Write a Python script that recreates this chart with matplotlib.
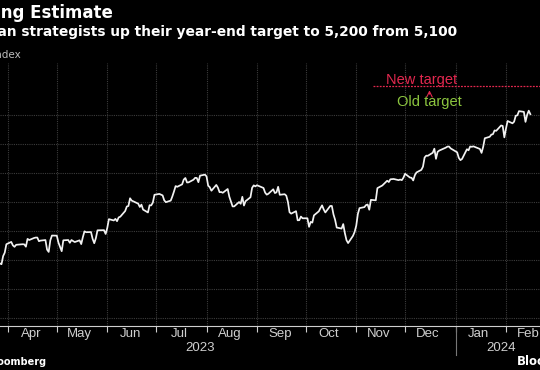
import pandas as pd
import matplotlib
matplotlib.use("Agg")
import matplotlib.pyplot as plt
import matplotlib.dates as mdates

# S&P 500 daily closes
dates = [
    "2023-03-22", "2023-03-23", "2023-03-24", "2023-03-27", "2023-03-28", "2023-03-29", "2023-03-30", "2023-03-31",
    "2023-04-03", "2023-04-04", "2023-04-05", "2023-04-06", "2023-04-10", "2023-04-11", "2023-04-12", "2023-04-13",
    "2023-04-14", "2023-04-17", "2023-04-18", "2023-04-19", "2023-04-20", "2023-04-21", "2023-04-24", "2023-04-25",
    "2023-04-26", "2023-04-27", "2023-04-28",
    "2023-05-01", "2023-05-02", "2023-05-03", "2023-05-04", "2023-05-05", "2023-05-08", "2023-05-09", "2023-05-10",
    "2023-05-11", "2023-05-12", "2023-05-15", "2023-05-16", "2023-05-17", "2023-05-18", "2023-05-19", "2023-05-22",
    "2023-05-23", "2023-05-24", "2023-05-25", "2023-05-26", "2023-05-30", "2023-05-31",
    "2023-06-01", "2023-06-02", "2023-06-05", "2023-06-06", "2023-06-07", "2023-06-08", "2023-06-09", "2023-06-12",
    "2023-06-13", "2023-06-14", "2023-06-15", "2023-06-16", "2023-06-20", "2023-06-21", "2023-06-22", "2023-06-23",
    "2023-06-26", "2023-06-27", "2023-06-28", "2023-06-29", "2023-06-30",
    "2023-07-03", "2023-07-05", "2023-07-06", "2023-07-07", "2023-07-10", "2023-07-11", "2023-07-12", "2023-07-13",
    "2023-07-14", "2023-07-17", "2023-07-18", "2023-07-19", "2023-07-20", "2023-07-21", "2023-07-24", "2023-07-25",
    "2023-07-26", "2023-07-27", "2023-07-28", "2023-07-31",
    "2023-08-01", "2023-08-02", "2023-08-03", "2023-08-04", "2023-08-07", "2023-08-08", "2023-08-09", "2023-08-10",
    "2023-08-11", "2023-08-14", "2023-08-15", "2023-08-16", "2023-08-17", "2023-08-18", "2023-08-21", "2023-08-22",
    "2023-08-23", "2023-08-24", "2023-08-25", "2023-08-28", "2023-08-29", "2023-08-30", "2023-08-31",
    "2023-09-01", "2023-09-05", "2023-09-06", "2023-09-07", "2023-09-08", "2023-09-11", "2023-09-12", "2023-09-13",
    "2023-09-14", "2023-09-15", "2023-09-18", "2023-09-19", "2023-09-20", "2023-09-21", "2023-09-22", "2023-09-25",
    "2023-09-26", "2023-09-27", "2023-09-28", "2023-09-29",
    "2023-10-02", "2023-10-03", "2023-10-04", "2023-10-05", "2023-10-06", "2023-10-09", "2023-10-10", "2023-10-11",
    "2023-10-12", "2023-10-13", "2023-10-16", "2023-10-17", "2023-10-18", "2023-10-19", "2023-10-20", "2023-10-23",
    "2023-10-24", "2023-10-25", "2023-10-26", "2023-10-27", "2023-10-30", "2023-10-31",
    "2023-11-01", "2023-11-02", "2023-11-03", "2023-11-06", "2023-11-07", "2023-11-08", "2023-11-09", "2023-11-10",
    "2023-11-13", "2023-11-14", "2023-11-15", "2023-11-16", "2023-11-17", "2023-11-20", "2023-11-21", "2023-11-22",
    "2023-11-24", "2023-11-27", "2023-11-28", "2023-11-29", "2023-11-30",
    "2023-12-01", "2023-12-04", "2023-12-05", "2023-12-06", "2023-12-07", "2023-12-08", "2023-12-11", "2023-12-12",
    "2023-12-13", "2023-12-14", "2023-12-15", "2023-12-18", "2023-12-19", "2023-12-20", "2023-12-21", "2023-12-22",
    "2023-12-26", "2023-12-27", "2023-12-28", "2023-12-29",
    "2024-01-02", "2024-01-03", "2024-01-04", "2024-01-05", "2024-01-08", "2024-01-09", "2024-01-10", "2024-01-11",
    "2024-01-12", "2024-01-16", "2024-01-17", "2024-01-18", "2024-01-19", "2024-01-22", "2024-01-23", "2024-01-24",
    "2024-01-25", "2024-01-26", "2024-01-29", "2024-01-30", "2024-01-31",
    "2024-02-01", "2024-02-02", "2024-02-05", "2024-02-06", "2024-02-07", "2024-02-08", "2024-02-09", "2024-02-12",
    "2024-02-13", "2024-02-14", "2024-02-15", "2024-02-16",
]
closes = [
    3937, 3948, 3971, 3977, 3971, 4027, 4051, 4109,
    4125, 4101, 4091, 4105, 4109, 4108, 4092, 4146,
    4138, 4152, 4155, 4155, 4130, 4134, 4138, 4072,
    4056, 4136, 4169,
    4168, 4120, 4091, 4061, 4136, 4138, 4119, 4138,
    4131, 4124, 4136, 4110, 4158, 4198, 4192, 4193,
    4146, 4116, 4151, 4205, 4206, 4180,
    4221, 4282, 4273, 4284, 4268, 4294, 4299, 4338,
    4369, 4373, 4426, 4410, 4389, 4366, 4382, 4348,
    4328, 4378, 4377, 4396, 4450,
    4456, 4446, 4412, 4399, 4410, 4439, 4473, 4510,
    4505, 4522, 4555, 4566, 4535, 4536, 4554, 4567,
    4566, 4537, 4582, 4589,
    4577, 4513, 4502, 4478, 4518, 4499, 4468, 4469,
    4464, 4490, 4437, 4404, 4370, 4370, 4400, 4388,
    4436, 4376, 4406, 4433, 4498, 4515, 4508,
    4516, 4497, 4465, 4451, 4457, 4488, 4462, 4467,
    4505, 4450, 4454, 4444, 4402, 4330, 4320, 4337,
    4274, 4275, 4300, 4288,
    4288, 4229, 4263, 4258, 4308, 4336, 4358, 4377,
    4349, 4328, 4373, 4373, 4315, 4278, 4224, 4217,
    4248, 4186, 4137, 4117, 4167, 4194,
    4237, 4318, 4358, 4365, 4379, 4383, 4347, 4415,
    4412, 4496, 4502, 4508, 4514, 4547, 4538, 4557,
    4559, 4551, 4555, 4551, 4568,
    4595, 4569, 4567, 4549, 4585, 4604, 4622, 4644,
    4707, 4720, 4719, 4740, 4768, 4698, 4746, 4755,
    4775, 4782, 4783, 4770,
    4743, 4705, 4689, 4697, 4764, 4757, 4783, 4781,
    4784, 4766, 4739, 4781, 4840, 4850, 4865, 4868,
    4894, 4891, 4928, 4925, 4846,
    4906, 4959, 4943, 4954, 4995, 4998, 5027, 5022,
    4953, 5001, 5030, 5006,
]
new_target = 5200
grid_levels = [3600, 3800, 4000, 4200, 4400, 4600, 4800, 5000]

df = pd.DataFrame({"date": pd.to_datetime(dates), "close": closes})

bg = "black"
red = "#e3284f"
green = "#8cc63f"
grid_col = "#3c3c3c"
tick_col = "#cfcfcf"
narrow = ["Liberation Sans Narrow", "Liberation Sans", "DejaVu Sans"]

fig = plt.figure(figsize=(5.4, 3.7), dpi=100, facecolor=bg)
ax = fig.add_axes([0, 44 / 370, 1, 263 / 370], facecolor=bg)

ax.plot(df["date"], df["close"], color="#f2f2f2", linewidth=1.25, zorder=3)

ax.set_xlim(pd.Timestamp("2023-03-27 02:00"), pd.Timestamp("2024-02-21 22:00"))
ax.set_ylim(3545, 5359)

# grid
ax.set_yticks(grid_levels)
ax.tick_params(axis="y", length=0, labelright=False, labelleft=False)
ax.yaxis.grid(True, color=grid_col, linestyle=(0, (1, 1)), linewidth=0.8)
ax.xaxis.set_major_locator(mdates.MonthLocator())
ax.xaxis.grid(True, color=grid_col, linestyle=(0, (1, 1)), linewidth=0.8)
ax.tick_params(axis="x", which="major", length=4, color=tick_col, width=0.8,
               labelbottom=False)

# month labels centred between month starts
ax.xaxis.set_minor_locator(mdates.MonthLocator(bymonthday=15))
ax.xaxis.set_minor_formatter(mdates.DateFormatter("%b"))
ax.tick_params(axis="x", which="minor", length=0, colors=tick_col, labelsize=9.5, pad=1.5)
for lab in ax.xaxis.get_minorticklabels():
    lab.set_fontfamily(narrow)

for s in ["top", "left", "right"]:
    ax.spines[s].set_visible(False)
ax.spines["bottom"].set_color(tick_col)
ax.spines["bottom"].set_linewidth(0.8)

# year labels and separator
ax.text(pd.Timestamp("2023-07-28"), -0.085, "2023", transform=ax.get_xaxis_transform(),
        ha="center", va="center", color=tick_col, fontsize=9.5, family=narrow)
ax.text(pd.Timestamp("2024-01-29"), -0.085, "2024", transform=ax.get_xaxis_transform(),
        ha="center", va="center", color=tick_col, fontsize=9.5, family=narrow)
ax.plot([pd.Timestamp("2024-01-01")] * 2, [0, -0.11], transform=ax.get_xaxis_transform(),
        color="#777777", linewidth=0.8, clip_on=False)

# target annotation
ax.hlines(new_target, pd.Timestamp("2023-11-11"), pd.Timestamp("2024-02-25"),
          color=red, linestyle=(0, (1.5, 1)), linewidth=0.9, zorder=4)
ax.text(pd.Timestamp("2023-11-19"), new_target - 5, "New target", color=red,
        fontsize=10.5, family=narrow, ha="left", va="bottom")
ax.annotate("", xy=(pd.Timestamp("2023-12-16"), new_target - 10),
            xytext=(pd.Timestamp("2023-12-16"), new_target - 75),
            arrowprops=dict(arrowstyle="->", color=red, lw=0.8))
ax.text(pd.Timestamp("2023-12-16"), new_target - 110, "Old target", color=green,
        fontsize=10.5, family=narrow, ha="center", va="center")

# titles, cropped on the left like the source image
fig.text(113 / 540, 1 - 13 / 370, "Goldman Raising Estimate", color="white",
         fontsize=12, fontweight="bold", ha="right", va="center")
fig.text(457 / 540, 1 - 32 / 370,
         "Goldman strategists up their year-end target to 5,200 from 5,100",
         color="white", fontsize=9.95, fontweight="bold", ha="right", va="center")
fig.text(21 / 540, 1 - 55 / 370, "S&P 500 Index", color="#bbbbbb", fontsize=7.5,
         ha="right", va="center")
fig.text(46 / 540, 1 - 362 / 370, "Source: Bloomberg", color="white", fontsize=7,
         fontweight="bold", ha="right", va="center")
fig.text(517 / 540, 1 - 361 / 370, "Bloomberg", color="white", fontsize=8.5,
         fontweight="bold", ha="left", va="center")

fig.savefig("out.png", dpi=100, facecolor=bg)
